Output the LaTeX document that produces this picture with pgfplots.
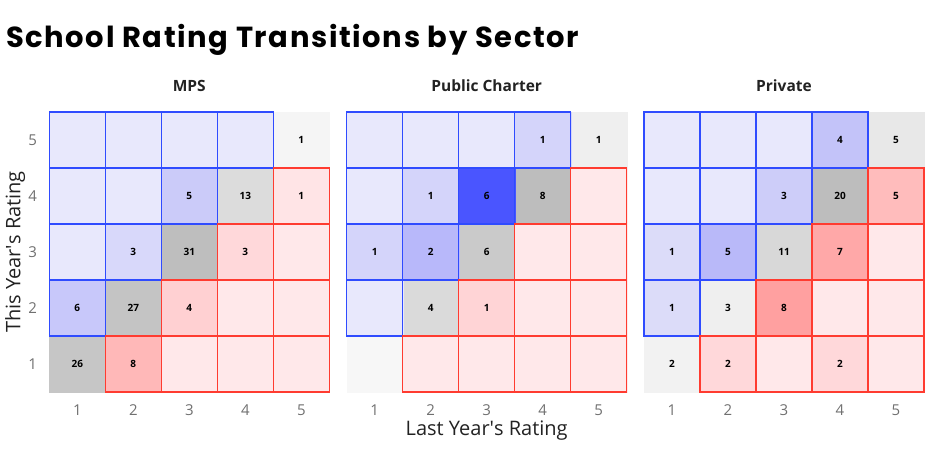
\documentclass[border=0pt]{standalone}
\usepackage{pgfplots}
\pgfplotsset{compat=1.18}
\usepackage{pgfplotstable}
\usepackage{fontspec}
\setmainfont{Open Sans}
\newfontfamily\titlefont{Poppins}[LetterSpace=5.5]

\definecolor{ticktext}{HTML}{707070}
\definecolor{labtext}{HTML}{222222}
\definecolor{edgeblue}{HTML}{2F4BFF}
\definecolor{edgered}{HTML}{FF3B30}

% x = last year, y = this year, n = count, col = cell colour, t = 0 up / 1 same / 2 down
\pgfplotstableread{
x y n col t
1 1 26 C6C6C6 1
2 2 27 C4C4C4 1
3 3 31 BEBEBE 1
4 4 13 DCDCDC 1
5 5 1 F5F5F5 1
1 2 6 C8C8FA 0
1 3 0 E8E8FC 0
1 4 0 E8E8FC 0
1 5 0 E8E8FC 0
2 3 3 D8D8FA 0
2 4 0 E8E8FC 0
2 5 0 E8E8FC 0
3 4 5 CBCBF9 0
3 5 0 E8E8FC 0
4 5 0 E8E8FC 0
2 1 8 FFB8B8 2
3 1 0 FFE8EA 2
4 1 0 FFE8EA 2
5 1 0 FFE8EA 2
3 2 4 FFD0D2 2
4 2 0 FFE8EA 2
5 2 0 FFE8EA 2
4 3 3 FFD8DA 2
5 3 0 FFE8EA 2
5 4 1 FFE4E6 2
}\mps

\pgfplotstableread{
x y n col t
1 1 0 F7F7F7 1
2 2 4 DADADA 1
3 3 6 CACACA 1
4 4 8 BDBDBD 1
5 5 1 EFEFEF 1
1 2 0 E8E8FC 0
1 3 1 D4D4FA 0
1 4 0 E8E8FC 0
1 5 0 E8E8FC 0
2 3 2 B8B8FA 0
2 4 1 D4D4FA 0
2 5 0 E8E8FC 0
3 4 6 4A55FF 0
3 5 0 E8E8FC 0
4 5 1 D4D4FA 0
2 1 0 FFE8EA 2
3 1 0 FFE8EA 2
4 1 0 FFE8EA 2
5 1 0 FFE8EA 2
3 2 1 FFD4D6 2
4 2 0 FFE8EA 2
5 2 0 FFE8EA 2
4 3 0 FFE8EA 2
5 3 0 FFE8EA 2
5 4 0 FFE8EA 2
}\charter

\pgfplotstableread{
x y n col t
1 1 2 F2F2F2 1
2 2 3 EFEFEF 1
3 3 11 D8D8D8 1
4 4 20 BDBDBD 1
5 5 5 E8E8E8 1
1 2 1 DCDCF9 0
1 3 1 DCDCF9 0
1 4 0 E8E8FC 0
1 5 0 E8E8FC 0
2 3 5 B9B9F9 0
2 4 0 E8E8FC 0
2 5 0 E8E8FC 0
3 4 3 CDCDF9 0
3 5 0 E8E8FC 0
4 5 4 C3C3F9 0
2 1 2 FFD8DA 2
3 1 0 FFE8EA 2
4 1 2 FFD8DA 2
5 1 0 FFE8EA 2
3 2 8 FFA0A0 2
4 2 0 FFE8EA 2
5 2 0 FFE8EA 2
4 3 7 FFA8A8 2
5 3 0 FFE8EA 2
5 4 5 FFBCBC 2
}\private

\pgfplotsset{
  panel/.style={
    anchor=south west, width=280pt, height=280pt, scale only axis,
    xmin=0.5, xmax=5.5, ymin=0.5, ymax=5.5, clip=false,
    axis line style={draw=none}, tick style={draw=none},
    xtick={1,2,3,4,5}, ytick={1,2,3,4,5},
    xticklabels={1,2,3,4,5}, yticklabels={},
    xticklabel style={anchor=center, yshift=-18.3pt, text=ticktext, font=\fontsize{15}{18}\selectfont},
    yticklabel style={anchor=center, xshift=-16.6pt, text=ticktext, font=\fontsize{15}{18}\selectfont},
    title style={at={(axis description cs:0.5,1)}, anchor=base, yshift=14.4pt,
      font=\bfseries\fontsize{15.5}{18}\selectfont, text=labtext},
  },
  cellfill/.style={
    scatter, only marks, mark=square*, mark size=28pt,
    point meta=explicit symbolic,
    scatter/@pre marker code/.code={%
      \edef\cellcolordef{\noexpand\definecolor{cellfillcolor}{HTML}{\pgfplotspointmeta}}%
      \cellcolordef
      \scope[fill=cellfillcolor, draw=cellfillcolor, line width=0.2pt]%
    },
    scatter/@post marker code/.code={\endscope},
  },
  celledge/.style={
    #1, only marks, mark=square, mark size=28pt,
    mark options={draw=#1, line width=1.5pt},
  },
  counts/.style={
    draw=none, mark=none, nodes near coords, point meta=\thisrow{n},
    restrict expr to domain={\thisrow{n}}{0.5:1000},
    /pgf/number format/assume math mode=true,
    nodes near coords align={center},
    every node near coord/.append style={anchor=center, text=black,
      font=\bfseries\fontsize{10}{12}\selectfont},
  },
}

\begin{document}
\begin{tikzpicture}
\path[use as bounding box] (0,0) rectangle (936pt,468pt);
\node[anchor=base west, inner sep=0pt, font=\titlefont\bfseries\fontsize{29}{34}\selectfont]
  at (6pt,420.7pt) {School Rating Transitions by Sector};

\begin{axis}[panel, at={(49.3pt,76pt)}, title={MPS},
  yticklabels={1,2,3,4,5},
  ylabel={This Year\textquotesingle s Rating},
  ylabel style={at={(axis description cs:-0.122,0.5)}, anchor=center,
    font=\fontsize{20}{24}\selectfont, text=labtext}]
\addplot[cellfill] table[x=x, y=y, meta=col] {\mps};
\addplot[celledge=edgeblue, restrict expr to domain={\thisrow{t}}{-0.5:0.5}] table[x=x, y=y] {\mps};
\addplot[celledge=edgered, restrict expr to domain={\thisrow{t}}{1.5:2.5}] table[x=x, y=y] {\mps};
\addplot[counts] table[x=x, y=y] {\mps};
\end{axis}

\begin{axis}[panel, at={(346.7pt,76pt)}, title={Public Charter},
  xlabel={Last Year\textquotesingle s Rating},
  xlabel style={at={(axis description cs:0.5,-0.157)}, anchor=base,
    font=\fontsize{20}{24}\selectfont, text=labtext}]
\addplot[cellfill] table[x=x, y=y, meta=col] {\charter};
\addplot[celledge=edgeblue, restrict expr to domain={\thisrow{t}}{-0.5:0.5}] table[x=x, y=y] {\charter};
\addplot[celledge=edgered, restrict expr to domain={\thisrow{t}}{1.5:2.5}] table[x=x, y=y] {\charter};
\addplot[counts] table[x=x, y=y] {\charter};
\end{axis}

\begin{axis}[panel, at={(644pt,76pt)}, title={Private}]
\addplot[cellfill] table[x=x, y=y, meta=col] {\private};
\addplot[celledge=edgeblue, restrict expr to domain={\thisrow{t}}{-0.5:0.5}] table[x=x, y=y] {\private};
\addplot[celledge=edgered, restrict expr to domain={\thisrow{t}}{1.5:2.5}] table[x=x, y=y] {\private};
\addplot[counts] table[x=x, y=y] {\private};
\end{axis}
\end{tikzpicture}
\end{document}
